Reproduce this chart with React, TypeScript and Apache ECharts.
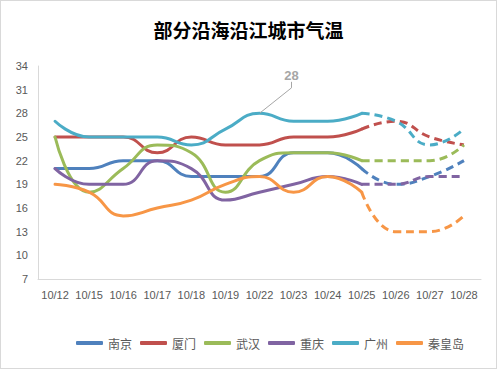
import React, { useEffect, useRef } from "react";
import * as echarts from "echarts";

const title = "部分沿海沿江城市气温";
const categories = ["10/12", "10/15", "10/16", "10/17", "10/18", "10/19", "10/22", "10/23", "10/24", "10/25", "10/26", "10/27", "10/28"];
const cityNames = ["南京", "厦门", "武汉", "重庆", "广州", "秦皇岛"];
const nanjing = [21, 21, 22, 22, 20, 20, 20, 23, 23, 21, 19, 20, 22];
const xiamen = [25, 25, 25, 23, 25, 24, 24, 25, 25, 26, 27, 25, 24];
const wuhan = [25, 18, 21, 24, 23, 18, 22, 23, 23, 22, 22, 22, 24];
const chongqing = [21, 19, 19, 22, 21, 17, 18, 19, 20, 19, 19, 20, 20];
const guangzhou = [27, 25, 25, 25, 24, 26, 28, 27, 27, 28, 27, 24, 26];
const qinhuangdao = [19, 18, 15, 16, 17, 19, 20, 18, 20, 18, 13, 13, 15];
const colors = ["#4F81BD", "#C0504D", "#9BBB59", "#8064A2", "#4BACC6", "#F79646"];
const yMin = 7;
const yMax = 34;
const yStep = 3;
const forecastStart = 9; // index of 10/25
const annotated = { city: 4, index: 6 };

export default function App() {
  const ref = useRef<HTMLDivElement>(null);
  useEffect(() => {
    if (!ref.current) return;
    const chart = echarts.init(ref.current, undefined, { renderer: "svg" });
    const all = [nanjing, xiamen, wuhan, chongqing, guangzhou, qinhuangdao];
    const series: any[] = [];
    all.forEach((vals, ci) => {
      const solid = vals.map((v, i) => {
        if (i > forecastStart) return null;
        const item: any = { value: v - yMin };
        if (ci === annotated.city && i === annotated.index) {
          item.symbol = "circle";
          item.symbolSize = 1;
          item.itemStyle = { color: "rgba(0,0,0,0)" };
          item.label = { show: true };
          item.labelLine = { show: true };
        }
        return item;
      });
      const dashed = vals.map((v, i) => (i >= forecastStart ? v - yMin : null));
      series.push({
        name: cityNames[ci],
        type: "line",
        data: solid,
        smooth: 0.5,
        symbol: "none",
        showSymbol: true,
        lineStyle: { width: 3, color: colors[ci], cap: "round" },
        itemStyle: { color: colors[ci] },
        label: {
          show: false,
          position: "top",
          formatter: (p: any) => String(vals[p.dataIndex]),
          color: "#A6A6A6",
          fontWeight: "bold",
          fontSize: 13,
          fontFamily: "Liberation Sans, Arial, sans-serif",
        },
        labelLine: { show: true, length2: 6, lineStyle: { color: "#A6A6A6", width: 1 } },
        labelLayout: { dx: 32, dy: -26 },
        emphasis: { disabled: true },
        z: 3,
      });
      series.push({
        name: cityNames[ci],
        type: "line",
        data: dashed,
        smooth: 0.5,
        symbol: "none",
        showSymbol: false,
        lineStyle: { width: 3, color: colors[ci], type: [8, 5] },
        itemStyle: { color: colors[ci] },
        z: 2,
      });
    });
    chart.setOption({
      animation: false,
      backgroundColor: "#ffffff",
      color: colors,
      title: {
        text: title,
        left: "center",
        top: 14,
        textStyle: {
          fontSize: 19,
          fontWeight: "bold",
          color: "#000000",
          fontFamily: "Noto Sans CJK SC, sans-serif",
        },
      },
      grid: { left: 37, right: 15, top: 65, bottom: 89 },
      legend: {
        data: cityNames,
        bottom: 14,
        left: 70,
        icon: "roundRect",
        itemWidth: 27,
        itemHeight: 4,
        itemGap: 8,
        textStyle: {
          fontSize: 12,
          color: "#595959",
          fontFamily: "Noto Sans CJK SC, sans-serif",
        },
      },
      xAxis: {
        type: "category",
        data: categories,
        boundaryGap: true,
        axisLine: { show: true, lineStyle: { color: "#D9D9D9", width: 1 } },
        axisTick: { show: false },
        axisLabel: {
          interval: 0,
          margin: 10,
          fontSize: 11,
          color: "#595959",
          fontFamily: "Liberation Sans, Arial, sans-serif",
        },
        splitLine: { show: false },
      },
      yAxis: {
        type: "value",
        min: 0,
        max: yMax - yMin,
        interval: yStep,
        axisLine: { show: true, lineStyle: { color: "#D9D9D9", width: 1 } },
        axisTick: { show: false },
        splitLine: { show: false },
        axisLabel: {
          margin: 10,
          fontSize: 11,
          color: "#595959",
          fontFamily: "Liberation Sans, Arial, sans-serif",
          formatter: (v: number) => String(v + yMin),
        },
      },
      series,
    });
    return () => chart.dispose();
  }, []);
  return (
    <div
      style={{
        position: "fixed",
        left: 0,
        top: 0,
        width: 497,
        height: 369,
        boxSizing: "border-box",
        border: "1px solid #D9D9D9",
        background: "#fff",
      }}
    >
      <div ref={ref} style={{ width: 495, height: 367 }} />
    </div>
  );
}
